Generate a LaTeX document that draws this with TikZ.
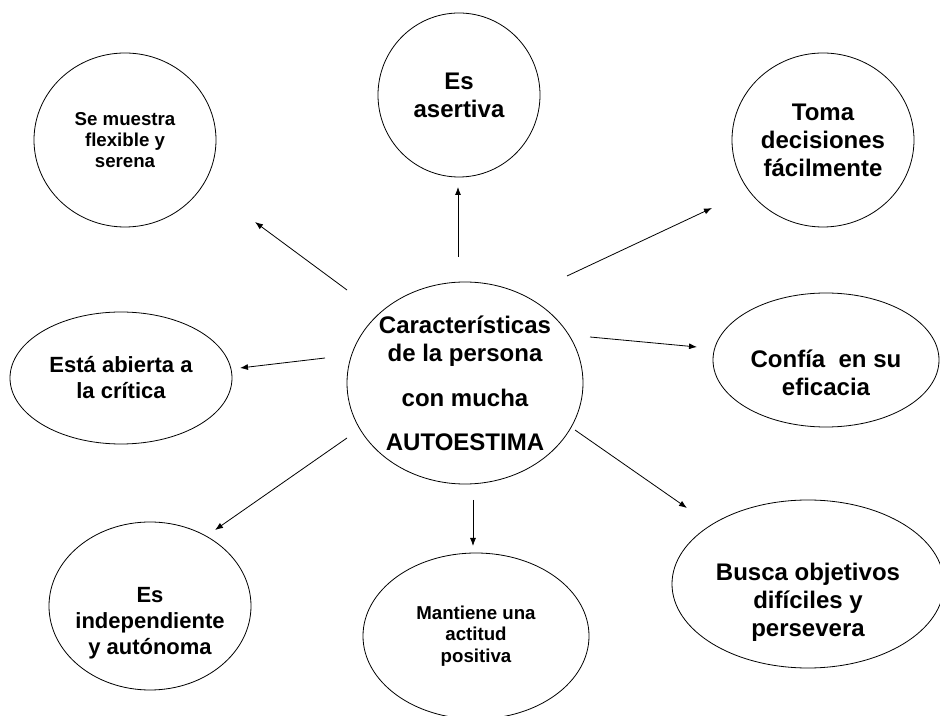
\documentclass[tikz,border=0pt]{standalone}
\usepackage{fontspec}
\setmainfont{Liberation Sans}
\usetikzlibrary{shapes.geometric,arrows.meta}

\begin{document}
\begin{tikzpicture}[
        x=0.75pt, y=-0.75pt,
        idea/.style={ellipse, draw=black, line width=0.6pt, inner sep=-4pt, align=center, text=black},
        bigtext/.style={font=\fontsize{18}{21}\selectfont\bfseries},
        midtext/.style={font=\fontsize{16.5}{19.5}\selectfont\bfseries},
        smalltext/.style={font=\fontsize{14}{16}\selectfont\bfseries},
        link/.style={-{Latex[length=6pt,width=4.5pt]}, line width=0.6pt}
    ]

    \useasboundingbox (0,0) rectangle (940,716);

    % Central idea
    \node[idea, bigtext, minimum width=177pt, minimum height=151.5pt] (centre) at (465,383) {Características\\ de la persona\\[13pt] con mucha\\[12pt] AUTOESTIMA};

    % Characteristics around it
    \node[idea, bigtext, minimum width=121.5pt, minimum height=123pt] (asertiva) at (459,95) {Es\\ asertiva};
    \node[idea, smalltext, minimum width=136.5pt, minimum height=130.5pt] (flexible) at (125,140) {Se muestra\\ flexible y\\ serena};
    \node[idea, bigtext, minimum width=136.5pt, minimum height=130.5pt] (decisiones) at (823,140) {Toma\\ decisiones\\ fácilmente};
    \node[idea, bigtext, minimum width=169.5pt, minimum height=100.5pt] (eficacia) at (826,360) {\rule{0pt}{33pt}Confía \ en su\\ eficacia};
    \node[idea, midtext, minimum width=166.5pt, minimum height=99pt] (critica) at (121,378) {Está abierta a\\ la crítica};
    \node[idea, midtext, minimum width=151.5pt, minimum height=126pt] (autonoma) at (150,606) {\rule{0pt}{37pt}Es\\ independiente\\ y autónoma};
    \node[idea, smalltext, minimum width=169.5pt, minimum height=124.5pt] (actitud) at (476,636) {Mantiene una\\ actitud\\ positiva};
    \node[idea, bigtext, minimum width=204pt, minimum height=126pt] (objetivos) at (808,584) {\rule{0pt}{40pt}Busca objetivos\\ difíciles y\\ persevera};

    % Arrows out of the centre
    \draw[link] ([shift={(-7,-126)}]centre.center) -- ([shift={(-1,92)}]asertiva.center);
    \draw[link] ([shift={(-118,-93)}]centre.center) -- ([shift={(130,82)}]flexible.center);
    \draw[link] ([shift={(102,-107)}]centre.center) -- ([shift={(-111,68)}]decisiones.center);
    \draw[link] ([shift={(125,-46)}]centre.center) -- ([shift={(-129,-13)}]eficacia.center);
    \draw[link] ([shift={(-140,-25)}]centre.center) -- ([shift={(119,-10)}]critica.center);
    \draw[link] ([shift={(-118,55)}]centre.center) -- ([shift={(65,-76)}]autonoma.center);
    \draw[link] ([shift={(8,117)}]centre.center) -- ([shift={(-3,-90)}]actitud.center);
    \draw[link] ([shift={(110,47)}]centre.center) -- ([shift={(-121,-76)}]objetivos.center);

\end{tikzpicture}
\end{document}
